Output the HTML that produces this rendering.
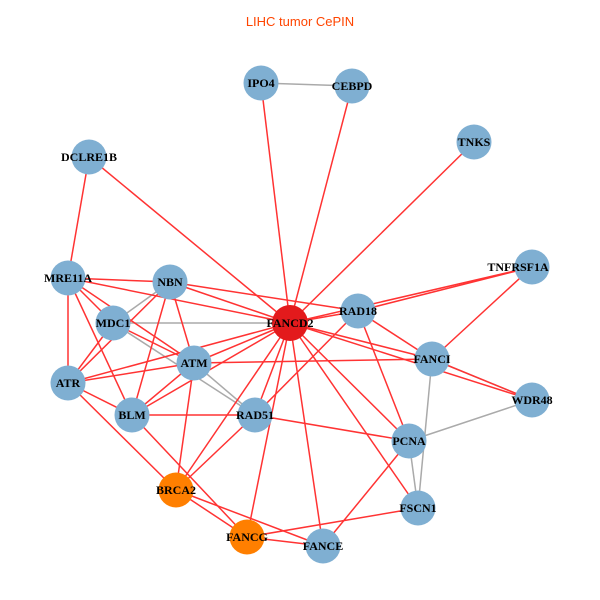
<!DOCTYPE html>
<html><head><meta charset="utf-8"><style>body{margin:0;background:#fff}svg{display:block}</style></head>
<body>
<svg width="600" height="600" viewBox="0 0 600 600" xmlns="http://www.w3.org/2000/svg">
<text x="300" y="26" text-anchor="middle" font-family="Liberation Sans, sans-serif" font-size="13" fill="#ff4500">LIHC tumor CePIN</text>
<g id="e"></g>
<g id="n"></g>
<script>
var N={IPO4:[261,83,'b'],CEBPD:[352,86,'b'],TNKS:[474,142,'b'],DCLRE1B:[89,157,'b'],TNFRSF1A:[532,267,'b',-14],
MRE11A:[68,278,'b'],NBN:[170,282,'b'],MDC1:[113,323,'b'],FANCD2:[290,323,'r'],RAD18:[358,311,'b'],FANCI:[432,359,'b'],
ATM:[194,363,'b'],ATR:[68,383,'b'],WDR48:[532,400,'b'],BLM:[132,415,'b'],RAD51:[255,415,'b'],PCNA:[409,441,'b'],
BRCA2:[176,490,'o'],FSCN1:[418,508,'b'],FANCG:[247,537,'o'],FANCE:[323,546,'b']};
var G=[['IPO4','CEBPD'],['NBN','MDC1'],['MDC1','FANCD2'],['MDC1','RAD51'],['ATM','RAD51'],['FANCI','WDR48'],['FANCI','FSCN1'],['PCNA','FSCN1'],['PCNA','WDR48']];
var R=[['IPO4','FANCD2'],['CEBPD','FANCD2'],['TNKS','FANCD2'],['DCLRE1B','FANCD2'],['DCLRE1B','MRE11A'],['TNFRSF1A','RAD18'],['TNFRSF1A','FANCD2'],['TNFRSF1A','FANCI'],
['MRE11A','NBN'],['MRE11A','FANCD2'],['MRE11A','MDC1'],['MRE11A','ATM'],['MRE11A','ATR'],['MRE11A','BLM'],
['NBN','FANCD2'],['NBN','RAD18'],['NBN','ATM'],['NBN','BLM'],['NBN','ATR'],['MDC1','ATM'],['MDC1','ATR'],
['ATM','FANCD2'],['ATM','ATR'],['ATM','BLM'],['ATM','FANCI'],['ATM','BRCA2'],['ATR','FANCD2'],['ATR','BLM'],['ATR','BRCA2'],
['BLM','RAD51'],['BLM','FANCD2'],['BLM','FANCG'],['FANCD2','RAD18'],['FANCD2','FANCI'],['FANCD2','WDR48'],['FANCD2','PCNA'],['FANCD2','FSCN1'],
['FANCD2','FANCE'],['FANCD2','FANCG'],['FANCD2','BRCA2'],['FANCD2','RAD51'],['RAD18','RAD51'],['RAD18','FANCI'],['RAD18','PCNA'],
['RAD51','PCNA'],['RAD51','BRCA2'],['PCNA','FANCE'],['FSCN1','FANCG'],['BRCA2','FANCG'],['BRCA2','FANCE'],['FANCG','FANCE'],['FANCI','WDR48']];
var ns='http://www.w3.org/2000/svg',e=document.getElementById('e'),n=document.getElementById('n');
function L(a,b,c){var l=document.createElementNS(ns,'line');l.setAttribute('x1',N[a][0]);l.setAttribute('y1',N[a][1]);l.setAttribute('x2',N[b][0]);l.setAttribute('y2',N[b][1]);l.setAttribute('stroke',c);l.setAttribute('stroke-width','1.5');e.appendChild(l);}
G.forEach(function(p){L(p[0],p[1],'#aaaaaa')});R.forEach(function(p){L(p[0],p[1],'#ff3333')});
var C={b:'#7fafd2',r:'#e31a1c',o:'#ff7f00'};
for(var k in N){var v=N[k],c=document.createElementNS(ns,'circle');c.setAttribute('cx',v[0]);c.setAttribute('cy',v[1]);c.setAttribute('r',v[2]=='r'?18:17.5);c.setAttribute('fill',C[v[2]]);n.appendChild(c);
var t=document.createElementNS(ns,'text');t.setAttribute('x',v[0]+(v[3]||0));t.setAttribute('y',v[1]+4);t.setAttribute('text-anchor','middle');t.setAttribute('font-family','Liberation Serif, serif');t.setAttribute('font-weight','bold');t.setAttribute('font-size','12');t.textContent=k;n.appendChild(t);}
</script>
</svg>
</body></html>
